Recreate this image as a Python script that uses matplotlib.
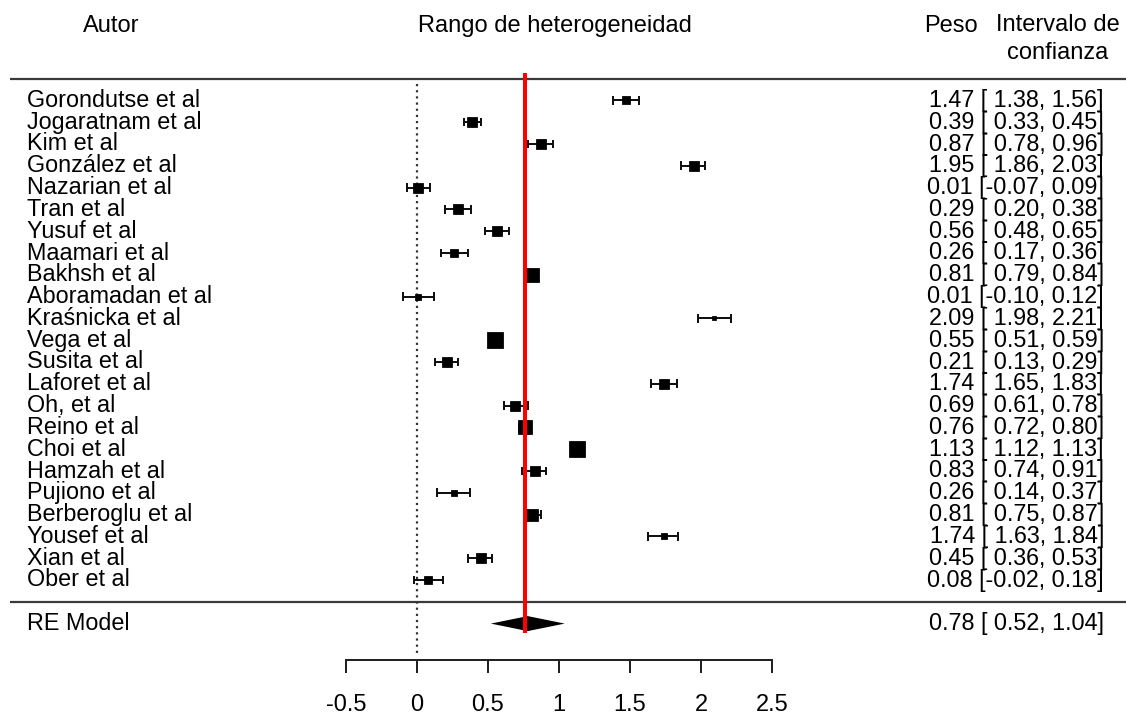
import matplotlib
matplotlib.use("Agg")
import matplotlib.pyplot as plt
from matplotlib.patches import Polygon

plt.rcParams['font.family'] = ['Liberation Sans', 'DejaVu Sans']

autores = ["Gorondutse et al", "Jogaratnam et al", "Kim et al", "González et al",
           "Nazarian et al", "Tran et al", "Yusuf et al", "Maamari et al",
           "Bakhsh et al", "Aboramadan et al", "Kraśnicka et al", "Vega et al",
           "Susita et al", "Laforet et al", "Oh, et al", "Reino et al",
           "Choi et al", "Hamzah et al", "Pujiono et al", "Berberoglu et al",
           "Yousef et al", "Xian et al", "Ober et al"]
estimacion = [1.47, 0.39, 0.87, 1.95, 0.01, 0.29, 0.56, 0.26, 0.81, 0.01, 2.09, 0.55,
              0.21, 1.74, 0.69, 0.76, 1.13, 0.83, 0.26, 0.81, 1.74, 0.45, 0.08]
ic_inf = [1.38, 0.33, 0.78, 1.86, -0.07, 0.20, 0.48, 0.17, 0.79, -0.10, 1.98, 0.51,
          0.13, 1.65, 0.61, 0.72, 1.12, 0.74, 0.14, 0.75, 1.63, 0.36, -0.02]
ic_sup = [1.56, 0.45, 0.96, 2.03, 0.09, 0.38, 0.65, 0.36, 0.84, 0.12, 2.21, 0.59,
          0.29, 1.83, 0.78, 0.80, 1.13, 0.91, 0.37, 0.87, 1.84, 0.53, 0.18]
peso_relativo = [0.33, 0.55, 0.45, 0.45, 0.55, 0.45, 0.45, 0.36, 0.82, 0.05, 0.0, 1.0,
                 0.45, 0.45, 0.45, 0.82, 1.0, 0.45, 0.18, 0.64, 0.1, 0.45, 0.36]
re_est, re_inf, re_sup = 0.78, 0.52, 1.04
linea_referencia = 0.76
ticks_x = [-0.5, 0, 0.5, 1, 1.5, 2, 2.5]
tick_labels = ["-0.5", "0", "0.5", "1", "1.5", "2", "2.5"]

DPI = 100
fig = plt.figure(figsize=(11.26, 7.16), dpi=DPI)
ax = fig.add_axes([0, 0, 1, 1])
px = 1 / 142.0          # data units per pixel in x
rowpx = 21.8            # pixels per row
ax.set_xlim(-417 * px, (1126 - 417) * px)
ax.set_ylim(1 - (716 - 580) / rowpx, 1 + 580 / rowpx)

k = len(autores)
rows = list(range(k, 0, -1))
pt = 72.0 / DPI
fs = 16.8

# separator lines
x_left = ax.get_xlim()[0] + 10 * px
x_right = ax.get_xlim()[1]
ax.plot([x_left, x_right], [k + 1, k + 1], color='#3a3a3a', lw=2.2 * pt, solid_capstyle='butt')
ax.plot([x_left, x_right], [0, 0], color='#3a3a3a', lw=2.2 * pt, solid_capstyle='butt')

# reference dotted line at 0
ax.plot([0, 0], [k + 0.75, -2.4], color='#333333', ls=(0, (1.0, 1.8)), lw=2.2 * pt)

# studies
cap = 4.3 / rowpx
lw_ci = 2.0 * pt
for r, e, lo, hi, w, name in zip(rows, estimacion, ic_inf, ic_sup, peso_relativo, autores):
    ax.plot([lo, hi], [r, r], color='#111111', lw=lw_ci, solid_capstyle='butt')
    ax.plot([lo, lo], [r - cap, r + cap], color='#111111', lw=lw_ci, solid_capstyle='butt')
    ax.plot([hi, hi], [r - cap, r + cap], color='#111111', lw=lw_ci, solid_capstyle='butt')
    size_px = 4.5 + 11.5 * w
    ax.plot([e], [r], marker='s', color='black', ms=size_px * pt, mew=0.8 * pt,
            mec='black', ls='none')
    ax.text(-2.746, r, name, ha='left', va='center', fontsize=fs)
    ax.text(4.838, r, f"{e:.2f} [{lo:5.2f}, {hi:.2f}]".replace("[ -", "[-"),
            ha='right', va='center', fontsize=fs)

# RE model diamond
hh = 7.5 / rowpx
ax.add_patch(Polygon([[re_inf, -1], [re_est, -1 + hh], [re_sup, -1], [re_est, -1 - hh]],
                     closed=True, color='black', lw=0))
ax.text(-2.746, -1, "RE Model", ha='left', va='center', fontsize=fs)
ax.text(4.838, -1, f"{re_est:.2f} [{re_inf:5.2f}, {re_sup:.2f}]",
        ha='right', va='center', fontsize=fs)

# red line
ax.plot([linea_referencia, linea_referencia], [k + 1.15, -1.35], color='#ff0000', lw=4 * pt)

# headers
hy = 1 + (580 - 26) / rowpx
ax.text(-2.155, hy, "Autor", ha='center', va='center', fontsize=17)
ax.text(0.972, hy, "Rango de heterogeneidad", ha='center', va='center', fontsize=17)
ax.text(3.76, hy, "Peso", ha='center', va='center', fontsize=17)
ax.text(4.514, 1 + (580 - 14) / rowpx, "Intervalo de\nconfianza", ha='center', va='top',
        fontsize=17, linespacing=1.35)

# x axis
for s in ['top', 'right', 'left']:
    ax.spines[s].set_visible(False)
ax.spines['bottom'].set_position(('data', 1 - (660 - 580) / rowpx))
ax.spines['bottom'].set_bounds(ticks_x[0], ticks_x[-1])
ax.spines['bottom'].set_linewidth(2 * pt)
ax.spines['bottom'].set_color('#222222')
ax.set_xticks(ticks_x)
ax.set_xticklabels(tick_labels, fontsize=17)
ax.tick_params(axis='x', direction='out', length=13 * pt, width=2 * pt, pad=15, color='#222222')
ax.set_yticks([])
ax.patch.set_alpha(0)

fig.savefig("out.png", dpi=DPI, facecolor='white')
